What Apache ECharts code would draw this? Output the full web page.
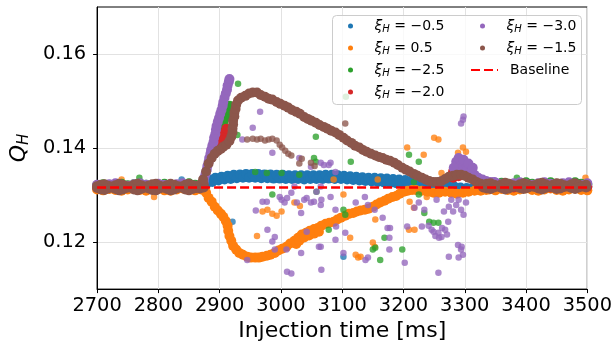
<!DOCTYPE html>
<html><head><meta charset="utf-8">
<script src="https://cdn.jsdelivr.net/npm/echarts@6/dist/echarts.min.js"></script>
<style>html,body{margin:0;padding:0;background:#fff}#c{width:615px;height:347px}</style>
</head><body><div id="c"></div>
<script>
// ---------------- data ----------------
const legendNames = ['−0.5', '0.5', '−2.5', '−2.0', '−3.0', '−1.5'];
const yTicks = [0.12, 0.14, 0.16];
const baselineX = [2700, 3500];
const baselineQ = 0.1316;

// xi_H = -1.5 (brown)
const brownBaseLeft = [
 [2700,.1319],[2706,.1322],[2712,.1323],[2718,.1320],[2724,.1318],[2730,.1321],[2736,.1324],[2742,.1322],[2748,.1319],[2754,.1318],
 [2760,.1322],[2766,.1324],[2772,.1321],[2778,.1318],[2784,.1320],[2790,.1323],[2796,.1324],[2802,.1320],[2808,.1318],[2814,.1321],
 [2820,.1324],[2826,.1322],[2832,.1319],[2838,.1318],[2844,.1322],[2850,.1324],[2856,.1321],[2862,.1319],[2868,.1321],[2874,.1323],
 [2700,.1315],[2706,.1312],[2712,.1311],[2718,.1314],[2724,.1316],[2730,.1313],[2736,.1310],[2742,.1312],[2748,.1315],[2754,.1316],
 [2760,.1312],[2766,.1310],[2772,.1313],[2778,.1316],[2784,.1314],[2790,.1311],[2796,.1310],[2802,.1314],[2808,.1316],[2814,.1313],
 [2820,.1310],[2826,.1312],[2832,.1315],[2838,.1316],[2844,.1312],[2850,.1310],[2856,.1313],[2862,.1315],[2868,.1314],[2874,.1316]
];
const brownHump = [
 [2868,.1322],[2873,.1333],[2878,.1350],[2882,.1367],[2887,.1379],[2892,.1388],[2897,.1394],[2902,.1398],[2906,.1403],[2911,.1407],
 [2916,.1415],[2919,.1424],[2921,.1433],[2921,.1441],[2922,.1450],[2922,.1458],[2924,.1467],[2924,.1475],[2926,.1483],[2927,.1492],
 [2930,.1501],[2935,.1507],[2942,.1511],[2948,.1516],[2954,.1518],[2961,.1518],[2967,.1513],[2974,.1509],[2980,.1505],[2986,.1503],
 [2993,.1498],[2999,.1494],[3006,.1490],[3012,.1486],[3018,.1481],[3025,.1477],[3031,.1473],[3038,.1466],[3044,.1462],[3050,.1458],
 [3057,.1454],[3063,.1449],[3070,.1445],[3076,.1441],[3082,.1437],[3089,.1433],[3095,.1428],[3102,.1422],[3108,.1416],[3115,.1411],
 [3121,.1405],[3128,.1401],[3134,.1396],[3140,.1392],[3147,.1388],[3154,.1384],[3160,.1381],[3166,.1379],[3172,.1375],[3178,.1373],
 [3185,.1369],[3191,.1364],[3198,.1358],[3204,.1354],[3210,.1350],[3217,.1345],[3223,.1341],[3230,.1337],[3236,.1333],[3242,.1330],
 [3249,.1328],[3255,.1328],[3262,.1330],[3268,.1334],[3274,.1339],[3281,.1341],[3287,.1343],[3294,.1343],[3300,.1341],[3306,.1337],
 [3313,.1333],[3319,.1328],[3326,.1324],[3332,.1322]
];
const brownBaseRight = [
 [3330,.1322],[3336,.1324],[3342,.1325],[3348,.1322],[3354,.1320],[3360,.1323],[3366,.1326],[3372,.1324],[3378,.1321],[3384,.1320],
 [3390,.1323],[3396,.1325],[3402,.1323],[3408,.1320],[3414,.1321],[3420,.1324],[3426,.1326],[3432,.1323],[3438,.1320],[3444,.1322],
 [3450,.1325],[3456,.1324],[3462,.1321],[3468,.1320],[3474,.1323],[3480,.1325],[3486,.1322],[3492,.1320],[3498,.1322],
 [3330,.1316],[3336,.1314],[3342,.1313],[3348,.1316],[3354,.1318],[3360,.1315],[3366,.1312],[3372,.1314],[3378,.1317],[3384,.1318],
 [3390,.1315],[3396,.1313],[3402,.1315],[3408,.1318],[3414,.1317],[3420,.1314],[3426,.1312],[3432,.1315],[3438,.1318],[3444,.1316],
 [3450,.1313],[3456,.1314],[3462,.1317],[3468,.1318],[3474,.1315],[3480,.1313],[3486,.1316],[3492,.1318],[3498,.1316]
];
const brownDots = [
 [2945,.1418],[2954,.1420],[2961,.1418],[2967,.1420],[2974,.1416],[2980,.1418],[2986,.1420],[2993,.1416],[2998,.1407],[3002,.1401],
 [3007,.1394],[3012,.1388],[3017,.1384],[3030,.1367],[3034,.1377],[3049,.1369],[3055,.1362],[3105,.1452]
];

// xi_H = -0.5 (blue)
const blueBaseLeft = [
 [2700,.1318],[2710,.1316],[2720,.1319],[2730,.1317],[2740,.1315],[2750,.1318],[2760,.1320],[2770,.1317],[2780,.1315],
 [2790,.1318],[2800,.1320],[2810,.1317],[2820,.1315],[2830,.1318],[2840,.1320],[2850,.1318],[2860,.1316]
];
const blueShift = [
 [2868,.1316],[2873,.1324],[2878,.1323],[2883,.1333],[2888,.1328],[2893,.1337],[2898,.1331],[2903,.1339],[2908,.1333],[2913,.1341],
 [2918,.1334],[2923,.1343],[2928,.1336],[2933,.1344],[2938,.1337],[2943,.1345],[2948,.1337],[2953,.1345],[2958,.1337],[2963,.1345],
 [2968,.1336],[2973,.1344],[2978,.1336],[2983,.1344],[2988,.1335],[2993,.1343],[2998,.1335],[3003,.1343],[3008,.1334],[3013,.1342],
 [3018,.1334],[3023,.1342],[3028,.1334],[3033,.1342],[3038,.1333],[3043,.1342],[3048,.1334],[3053,.1342],[3058,.1334],[3063,.1342],
 [3068,.1334],[3073,.1343],[3078,.1335],[3083,.1343],[3088,.1334],[3093,.1342],[3098,.1334],[3103,.1341],[3108,.1333],[3113,.1340],
 [3118,.1332],[3123,.1339],[3128,.1331],[3133,.1338],[3138,.1330],[3143,.1337],[3148,.1329],[3153,.1337],[3158,.1328],[3163,.1336],
 [3168,.1327],[3173,.1335],[3178,.1326],[3183,.1334],[3188,.1325],[3193,.1333],[3198,.1324],[3203,.1332],[3208,.1323],[3213,.1331],
 [3218,.1322],[3223,.1330],[3228,.1321],[3233,.1328],[3238,.1320],[3243,.1327],[3248,.1319],[3253,.1325],[3258,.1317],[3263,.1323],
 [3268,.1316],[3273,.1320],[3278,.1314],[3283,.1318],[3288,.1313],[3293,.1316],[3298,.1312],[3303,.1315]
];
const blueBaseRight = [
 [3310,.1314],[3320,.1316],[3330,.1318],[3340,.1316],[3350,.1314],[3360,.1317],[3370,.1319],[3380,.1316],[3390,.1314],[3400,.1317],
 [3410,.1319],[3420,.1317],[3430,.1315],[3440,.1317],[3450,.1319],[3460,.1317],[3470,.1315],[3480,.1317],[3490,.1319],[3500,.1317]
];
const blueDots = [[3102,.1169],[2921,.1243],[2838,.1333]];

// xi_H = 0.5 (orange)
const orangeBaseLeft = [
 [2700,.1312],[2710,.1310],[2720,.1313],[2730,.1311],[2740,.1309],[2750,.1312],[2760,.1314],[2770,.1311],[2780,.1309],
 [2790,.1312],[2800,.1313],[2810,.1310],[2820,.1309],[2830,.1312],[2840,.1314],[2850,.1311],[2860,.1310],[2870,.1312]
];
const orangeDip = [
 [2878,.1305],[2882,.1294],[2887,.1286],[2892,.1275],[2897,.1267],[2902,.1260],[2906,.1254],[2910,.1245],[2913,.1235],[2914,.1224],
 [2916,.1213],[2919,.1203],[2922,.1192],[2927,.1184],[2932,.1177],[2938,.1173],[2945,.1169],[2951,.1167],[2958,.1167],[2964,.1167],
 [2970,.1169],[2977,.1171],[2983,.1173],[2990,.1177],[2996,.1182],[3002,.1186],[3009,.1190],[3015,.1197],[3022,.1203],[3028,.1209],
 [3034,.1216],[3041,.1220],[3047,.1224],[3054,.1228],[3060,.1230],[3066,.1235],[3073,.1239],[3079,.1241],[3086,.1243],[3092,.1248],
 [3098,.1252],[3105,.1256],[3111,.1260],[3118,.1262],[3124,.1265],[3130,.1267],[3137,.1269],[3143,.1271],[3150,.1275],[3156,.1280],
 [3162,.1284],[3169,.1288],[3175,.1292],[3182,.1296],[3188,.1298],[3194,.1303],[3201,.1307],[3207,.1309],[3214,.1311],[3220,.1311],
 [3230,.1309],[3239,.1307],[3249,.1305],[3258,.1305],[3268,.1307],[3278,.1305],[3287,.1303],[3297,.1305],[3306,.1307],[3316,.1309],
 [3326,.1309],[3335,.1311],
 [3025,.1196],[3030,.1203],[3038,.1210],[3046,.1214],[3054,.1218],[3062,.1222]
];
const orangeBaseRight = [
 [3340,.1312],[3350,.1310],[3360,.1313],[3370,.1311],[3380,.1309],[3390,.1312],[3400,.1314],[3410,.1311],[3420,.1309],
 [3430,.1312],[3440,.1314],[3450,.1311],[3460,.1309],[3470,.1312],[3480,.1314],[3490,.1311],[3500,.1310]
];
const orangeDots = [
 [3250,.1422],[3257,.1418],[3206,.1401],[3233,.1386],[3297,.1401],[3302,.1392],[3289,.1390],[3262,.1347],[3086,.1333],[3158,.1333],
 [3102,.1301],[3210,.1286],[3217,.1273],[3238,.1296],[3154,.1248],[3150,.1199],[3153,.1190],[3122,.1173],[3130,.1169],[3126,.1167],
 [3113,.1209],[3209,.1226],[3218,.1226],[2740,.1333],[2793,.1296],[3497,.1337],[2970,.1265],[2978,.1269],[2986,.1260],[2993,.1256],
 [3001,.1265],[3022,.1284],[3031,.1277],[2961,.1213]
];

// xi_H = -2.5 (green)
const greenBaseLeft = [
 [2700,.1321],[2710,.1323],[2720,.1320],[2730,.1322],[2740,.1324],[2750,.1321],[2760,.1323],[2770,.1325],[2780,.1322],
 [2790,.1320],[2800,.1322],[2810,.1324],[2820,.1322],[2830,.1320],[2840,.1323],[2850,.1325],[2860,.1322],[2870,.1320]
];
const greenRise = [
 [2892,.1396],[2894,.1405],[2897,.1413],[2899,.1422],[2901,.1430],[2903,.1439],[2905,.1447],[2906,.1456],[2909,.1464],[2911,.1473],
 [2913,.1481],[2916,.1490]
];
const greenBaseRight = [
 [3340,.1325],[3350,.1323],[3360,.1326],[3370,.1324],[3380,.1322],[3390,.1325],[3400,.1327],[3410,.1324],[3420,.1322],
 [3430,.1325],[3440,.1327],[3450,.1324],[3460,.1322],[3470,.1325],[3480,.1327],[3490,.1324],[3500,.1323]
];
const greenDots = [
 [2930,.1537],[2929,.1428],[3057,.1424],[3054,.1379],[3057,.1371],[3114,.1371],[2986,.1301],[2958,.1349],[2977,.1347],[3001,.1347],
 [3030,.1343],[3058,.1307],[3102,.1269],[3105,.1258],[3078,.1226],[3169,.1209],[3154,.1188],[3150,.1184],[3162,.1162],[3198,.1184],
 [3225,.1371],[3209,.1386],[3217,.1328],[3225,.1301],[3234,.1262],[3242,.1243],[3249,.1241],[3257,.1241],[3106,.1509],[2769,.1337],
 [3385,.1337],[3481,.1328],[3286,.1371],[3305,.1360]
];

// xi_H = -2.0 (red)
const redBase = [
 [2700,.1317],[2720,.1318],[2740,.1316],[2760,.1318],[2780,.1317],[2800,.1316],[2820,.1318],[2840,.1317],[2860,.1316],
 [3340,.1318],[3360,.1317],[3380,.1316],[3400,.1318],[3420,.1317],[3440,.1316],[3460,.1318],[3480,.1317],[3500,.1318]
];
const redRise = [
 [2890,.1392],[2892,.1401],[2895,.1407],[2898,.1413],[2902,.1420],[2905,.1426],[2908,.1432],[2911,.1441],[2900,.1405],[2906,.1416]
];
const redRight = [
 [3281,.1350],[3287,.1356],[3294,.1362],[3300,.1364],[3305,.1358],[3310,.1352],[3294,.1350],[3303,.1347],[3281,.1337],[3290,.1340]
];

// xi_H = -3.0 (purple)
const purpleBaseLeft = [
 [2700,.1322],[2710,.1320],[2720,.1323],[2730,.1325],[2740,.1322],[2750,.1320],[2760,.1323],[2770,.1325],[2780,.1322],
 [2790,.1321],[2800,.1324],[2810,.1322],[2820,.1320],[2830,.1323],[2840,.1325],[2850,.1322],[2860,.1320]
];
const purpleRise = [
 [2872,.1320],[2874,.1328],[2875,.1337],[2877,.1345],[2879,.1354],[2880,.1362],[2882,.1371],[2883,.1379],[2885,.1388],[2886,.1396],
 [2888,.1405],[2890,.1413],[2891,.1422],[2893,.1430],[2894,.1439],[2895,.1447],[2897,.1456],[2899,.1464],[2901,.1473],[2903,.1481],
 [2905,.1490],[2906,.1498],[2908,.1507],[2910,.1516],[2912,.1524],[2913,.1533],[2915,.1541],[2916,.1547]
];
const purpleRight = [
 [3286,.1371],[3290,.1379],[3294,.1364],[3298,.1375],[3303,.1358],[3310,.1350],[3316,.1343],[3322,.1337],[3329,.1333],[3335,.1330],
 [3342,.1328],[3348,.1328],[3297,.1350],[3289,.1354],[3306,.1367],[3282,.1358],[3313,.1358]
];
const purpleBaseRight = [
 [3350,.1326],[3360,.1324],[3370,.1322],[3380,.1325],[3390,.1327],[3400,.1324],[3410,.1322],[3420,.1325],
 [3430,.1327],[3440,.1324],[3450,.1322],[3460,.1325],[3470,.1327],[3480,.1324],[3490,.1322],[3500,.1325]
];
const purpleDots = [
 [2966,.1477],[2954,.1443],[2937,.1418],[2986,.1390],[3030,.1379],[3070,.1364],[3081,.1369],[2998,.1296],[3017,.1305],[3022,.1318],
 [3058,.1307],[3065,.1318],[2970,.1286],[2959,.1267],[2977,.1286],[2978,.1226],[2990,.1211],[2986,.1201],[3001,.1290],[3006,.1284],
 [3010,.1294],[3026,.1284],[3033,.1262],[3038,.1290],[3042,.1294],[3054,.1286],[3066,.1290],[3081,.1296],[3065,.1279],[3065,.1369],
 [3009,.1184],[2990,.1184],[3010,.1137],[3017,.1133],[3033,.1177],[3065,.1190],[3066,.1141],[2945,.1162],[3042,.1222],[3049,.1284],
 [3078,.1364],[3089,.1269],[3089,.1205],[3090,.1233],[3062,.1190],[3102,.1177],[3105,.1220],[3122,.1284],[3137,.1296],[3142,.1279],
 [3153,.1269],[3166,.1252],[3174,.1230],[3178,.1230],[3177,.1209],[3138,.1162],[3142,.1167],[3177,.1184],[3202,.1156],[3206,.1233],
 [3218,.1273],[3225,.1284],[3234,.1269],[3241,.1235],[3230,.1233],[3249,.1222],[3257,.1220],[3262,.1211],[3257,.1135],[3266,.1265],
 [3273,.1243],[3274,.1169],[3254,.1290],[3246,.1226],[3252,.1213],[3268,.1226],[3271,.1216],[3258,.1209],[3263,.1230],
 [3289,.1194],[3294,.1184],[3297,.1173],[3290,.1167],[3295,.1190],
 [3278,.1290],[3286,.1279],[3294,.1269],[3298,.1258],[3274,.1275],[3281,.1265],[3290,.1290],[3302,.1284],
 [3298,.1467],[3297,.1460],[3294,.1452],[3089,.1349],[3049,.1360]
];

// ---------------- chart ----------------
const groups = [
  {name: legendNames[0], color: '#1f77b4', band: [...blueBaseLeft, ...blueShift, ...blueBaseRight], dots: blueDots},
  {name: legendNames[1], color: '#ff7f0e', band: [...orangeBaseLeft, ...orangeDip, ...orangeBaseRight], dots: orangeDots},
  {name: legendNames[2], color: '#2ca02c', band: [...greenBaseLeft, ...greenRise, ...greenBaseRight], dots: greenDots},
  {name: legendNames[3], color: '#d62728', band: [...redBase, ...redRise, ...redRight], dots: []},
  {name: legendNames[4], color: '#9467bd', band: [...purpleBaseLeft, ...purpleRise, ...purpleRight, ...purpleBaseRight], dots: purpleDots},
  {name: legendNames[5], color: '#8c564b', band: [...brownBaseLeft, ...brownHump, ...brownBaseRight], dots: brownDots}
];

const series = [];
groups.forEach(g => {
  series.push({type: 'scatter', name: g.name, data: g.band, symbolSize: 10,
    itemStyle: {color: g.color, opacity: 1}, z: 2});
  if (g.dots.length) series.push({type: 'scatter', name: g.name, data: g.dots, symbolSize: 6.5,
    itemStyle: {color: g.color, opacity: 0.78}, z: 2});
});
series.push({type: 'line', name: 'Baseline', data: baselineX.map(x => [x, baselineQ]), symbol: 'none',
  lineStyle: {color: '#ff0000', width: 2.5, type: [9, 4]}, itemStyle: {color: '#ff0000'}, z: 3});

const FONT = 'DejaVu Sans';
const rich = {
  x: {fontFamily: FONT, fontStyle: 'italic', fontSize: 14, lineHeight: 16, color: '#000'},
  s: {fontFamily: FONT, fontStyle: 'italic', fontSize: 10, lineHeight: 8, verticalAlign: 'bottom', color: '#000'},
  t: {fontFamily: FONT, fontSize: 14, lineHeight: 16, color: '#000'},
  g: {width: 7, lineHeight: 16}
};
const fmt = n => n === 'Baseline' ? '{g| }{t|Baseline}' : '{x|ξ}{s|H}{t| = ' + n + '}';
const legendBase = {orient: 'vertical', padding: 0, itemGap: 6, itemHeight: 5, formatter: fmt,
  textStyle: {fontFamily: FONT, fontSize: 14, lineHeight: 16, color: '#000', rich: rich}, z: 6};

const option = {
  animation: false,
  backgroundColor: '#fff',
  grid: {left: 89, right: 26, top: 7, bottom: 57, show: true, borderColor: '#000', borderWidth: 1},
  xAxis: {
    type: 'value', min: 2700, max: 3500, interval: 100,
    axisLine: {show: true, lineStyle: {color: '#000', width: 1}},
    axisTick: {show: true, length: 4, lineStyle: {color: '#000'}},
    axisLabel: {fontFamily: FONT, fontSize: 19.4, color: '#000', margin: 7, formatter: v => String(v)},
    splitLine: {show: true, lineStyle: {color: '#e2e2e2', width: 1}},
    name: 'Injection time [ms]', nameLocation: 'middle', nameGap: 27,
    nameTextStyle: {fontFamily: FONT, fontSize: 22, color: '#000'}
  },
  yAxis: {
    type: 'value', min: 0.11, max: 0.17,
    axisLine: {show: true, lineStyle: {color: '#000', width: 1}},
    axisTick: {show: true, length: 4, customValues: yTicks, lineStyle: {color: '#000'}},
    axisLabel: {customValues: yTicks, fontFamily: FONT, fontSize: 19.4, color: '#000', margin: 11,
      formatter: v => v.toFixed(2)},
    splitLine: {show: true, lineStyle: {color: '#e2e2e2', width: 1}},
    name: '{q|Q}{h|H}', nameLocation: 'middle', nameRotate: 90, nameGap: 57,
    nameTextStyle: {rich: {
      q: {fontFamily: FONT, fontStyle: 'italic', fontSize: 22, lineHeight: 26, color: '#000'},
      h: {fontFamily: FONT, fontStyle: 'italic', fontSize: 15, lineHeight: 14, verticalAlign: 'bottom', color: '#000'}
    }}
  },
  legend: [
    Object.assign({}, legendBase, {left: 348, top: 18, itemWidth: 38, data: legendNames.slice(0, 4)}),
    Object.assign({}, legendBase, {left: 480, top: 18, itemWidth: 38, data: legendNames.slice(4, 6)}),
    Object.assign({}, legendBase, {left: 470, top: 62, itemWidth: 27,
      data: [{name: 'Baseline', itemStyle: {opacity: 0}}]})
  ],
  graphic: {elements: [{type: 'rect', left: 332, top: 15, z: 5,
    shape: {width: 249, height: 89, r: 4},
    style: {fill: 'rgba(255,255,255,0.8)', stroke: '#cccccc', lineWidth: 1}}]},
  series: series
};
const chart = echarts.init(document.getElementById('c'), null, {renderer: 'canvas'});
chart.setOption(option);
</script></body></html>
